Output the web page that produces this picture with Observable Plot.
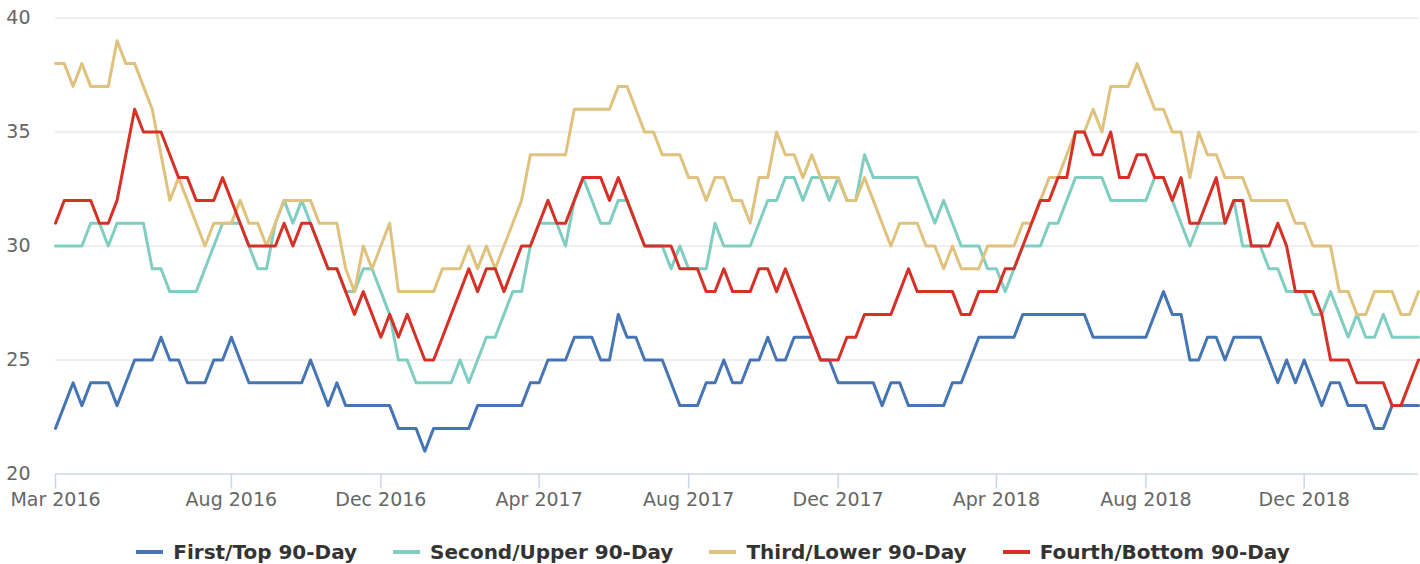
<!DOCTYPE html>
<html>
<head>
<meta charset="utf-8">
<script src="https://cdn.jsdelivr.net/npm/d3@7"></script>
<script src="https://cdn.jsdelivr.net/npm/@observablehq/plot@0.6"></script>
<style>
  html, body { margin: 0; padding: 0; background: #ffffff; }
  #chart { width: 1420px; height: 564px; font-family: "DejaVu Sans", sans-serif; }
  .legend { display: flex; justify-content: center; align-items: center; gap: 36px;
            height: 24px; margin-top: 20px; font: bold 20px "DejaVu Sans", sans-serif; color: #333333;
            padding-left: 6px; }
  .item { display: flex; align-items: center; gap: 10px; white-space: nowrap; }
  .item svg { display: block; }
</style>
</head>
<body>
<div id="chart"></div>
<script>
// ---- data (weekly points) ----
const seriesNames = ["First/Top 90-Day", "Second/Upper 90-Day", "Third/Lower 90-Day", "Fourth/Bottom 90-Day"];

const firstTop = [
  22,23,24,23,24,24,24,23,24,25, 25,25,26,25,25,24,24,24,25,25,
  26,25,24,24,24,24,24,24,24,25, 24,23,24,23,23,23,23,23,23,22,
  22,22,21,22,22,22,22,22,23,23, 23,23,23,23,24,24,25,25,25,26,
  26,26,25,25,27,26,26,25,25,25, 24,23,23,23,24,24,25,24,24,25,
  25,26,25,25,26,26,26,25,25,24, 24,24,24,24,23,24,24,23,23,23,
  23,23,24,24,25,26,26,26,26,26, 27,27,27,27,27,27,27,27,26,26,
  26,26,26,26,26,27,28,27,27,25, 25,26,26,25,26,26,26,26,25,24,
  25,24,25,24,23,24,24,23,23,23, 22,22,23,23,23,23
];
const secondUpper = [
  30,30,30,30,31,31,30,31,31,31, 31,29,29,28,28,28,28,29,30,31,
  31,31,30,29,29,31,32,31,32,31, 30,29,29,28,28,29,29,28,27,25,
  25,24,24,24,24,24,25,24,25,26, 26,27,28,28,30,31,31,31,30,32,
  33,32,31,31,32,32,31,30,30,30, 29,30,29,29,29,31,30,30,30,30,
  31,32,32,33,33,32,33,33,32,33, 32,32,34,33,33,33,33,33,33,32,
  31,32,31,30,30,30,29,29,28,29, 30,30,30,31,31,32,33,33,33,33,
  32,32,32,32,32,33,33,32,31,30, 31,31,31,31,32,30,30,30,29,29,
  28,28,28,27,27,28,27,26,27,26, 26,27,26,26,26,26
];
const thirdLower = [
  38,38,37,38,37,37,37,39,38,38, 37,36,34,32,33,32,31,30,31,31,
  31,32,31,31,30,31,32,32,32,32, 31,31,31,29,28,30,29,30,31,28,
  28,28,28,28,29,29,29,30,29,30, 29,30,31,32,34,34,34,34,34,36,
  36,36,36,36,37,37,36,35,35,34, 34,34,33,33,32,33,33,32,32,31,
  33,33,35,34,34,33,34,33,33,33, 32,32,33,32,31,30,31,31,31,30,
  30,29,30,29,29,29,30,30,30,30, 31,31,32,33,33,34,35,35,36,35,
  37,37,37,38,37,36,36,35,35,33, 35,34,34,33,33,33,32,32,32,32,
  32,31,31,30,30,30,28,28,27,27, 28,28,28,27,27,28
];
const fourthBottom = [
  31,32,32,32,32,31,31,32,34,36, 35,35,35,34,33,33,32,32,32,33,
  32,31,30,30,30,30,31,30,31,31, 30,29,29,28,27,28,27,26,27,26,
  27,26,25,25,26,27,28,29,28,29, 29,28,29,30,30,31,32,31,31,32,
  33,33,33,32,33,32,31,30,30,30, 30,29,29,29,28,28,29,28,28,28,
  29,29,28,29,28,27,26,25,25,25, 26,26,27,27,27,27,28,29,28,28,
  28,28,28,27,27,28,28,28,29,29, 30,31,32,32,33,33,35,35,34,34,
  35,33,33,34,34,33,33,32,33,31, 31,32,33,31,32,32,30,30,30,31,
  30,28,28,28,27,25,25,25,24,24, 24,24,23,23,24,25
];

// x-axis: labelled weeks (ordinal positions) and their labels
const tickWeeks  = [0, 20, 37, 55, 72, 89, 107, 124, 142];
const tickLabels = ["Mar 2016", "Aug 2016", "Dec 2016", "Apr 2017", "Aug 2017",
                    "Dec 2017", "Apr 2018", "Aug 2018", "Dec 2018"];
const yTicks = [20, 25, 30, 35, 40];

const seriesColors = ["#4575b4", "#80cdc1", "#dfc27d", "#d73027"];

// ---- build table ----
const allSeries = [firstTop, secondUpper, thirdLower, fourthBottom];
const rows = [];
allSeries.forEach((vals, s) => {
  vals.forEach((v, i) => rows.push({series: seriesNames[s], week: i, value: v}));
});

const chart = Plot.plot({
  width: 1420,
  height: 520,
  marginLeft: 55,
  marginRight: 2,
  marginTop: 17.5,
  marginBottom: 46.5,
  style: {fontFamily: '"DejaVu Sans", sans-serif', fontSize: "19px", background: "#ffffff", overflow: "visible"},
  x: {domain: [0, firstTop.length - 1], label: null},
  y: {domain: [20, 40], label: null},
  color: {domain: seriesNames, range: seriesColors},
  marks: [
    Plot.gridY(yTicks.filter(v => v > 20), {stroke: "#dedede", strokeOpacity: 1, strokeWidth: 1}),
    Plot.ruleY([20], {stroke: "#ccd6eb", strokeWidth: 1.5}),
    Plot.axisY(yTicks, {tickSize: 0, tickPadding: 25, fill: "#666666", fontSize: 19, label: null}),
    Plot.axisX(tickWeeks, {
      tickSize: 15, tickPadding: 3, stroke: "#ccd6eb", strokeWidth: 1.5,
      fill: "#666666", fontSize: 19, label: null,
      tickFormat: d => tickLabels[tickWeeks.indexOf(d)]
    }),
    Plot.line(rows, {x: "week", y: "value", z: "series", stroke: "series", strokeWidth: 3})
  ]
});

const root = document.getElementById("chart");
root.appendChild(chart);

// legend
const legend = document.createElement("div");
legend.className = "legend";
seriesNames.forEach((name, i) => {
  const item = document.createElement("div");
  item.className = "item";
  item.innerHTML = `<svg width="27" height="6"><line x1="0" x2="27" y1="3" y2="3" stroke="${seriesColors[i]}" stroke-width="4"/></svg><span>${name}</span>`;
  legend.appendChild(item);
});
root.appendChild(legend);
</script>
</body>
</html>
